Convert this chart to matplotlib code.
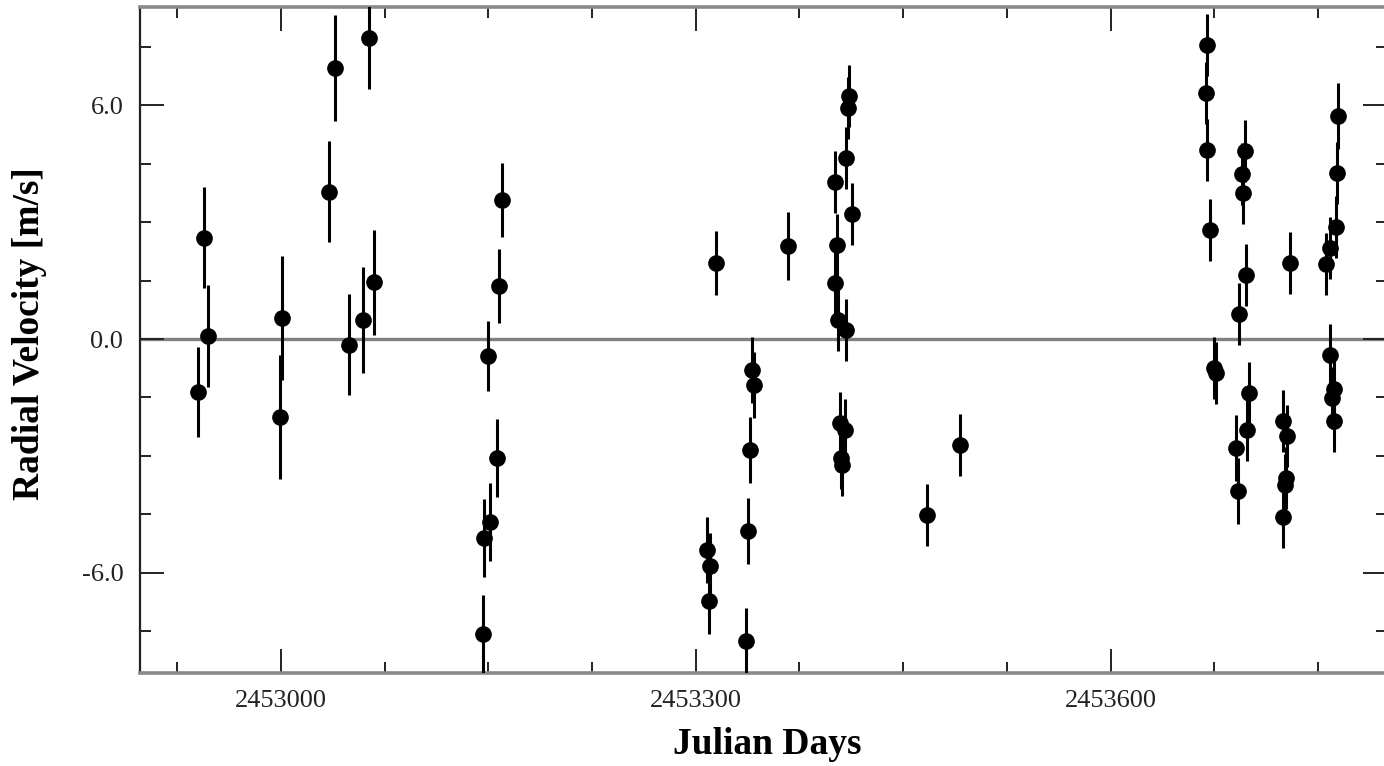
import matplotlib
matplotlib.use("Agg")
import matplotlib.pyplot as plt
from matplotlib.ticker import FixedLocator, MultipleLocator, FormatStrFormatter

# Julian day of each observation
jd = [2452940, 2452944, 2452947, 2452999, 2453001, 2453035, 2453039, 2453049,
      2453059, 2453064, 2453067,
      2453146, 2453147, 2453150, 2453151, 2453156, 2453158, 2453160,
      2453308, 2453310, 2453309.5, 2453315, 2453336, 2453338, 2453339,
      2453340.5, 2453342, 2453367,
      2453401, 2453400.5, 2453402, 2453403, 2453404, 2453405, 2453405.5,
      2453408, 2453408.5, 2453408.5, 2453410, 2453411, 2453413,
      2453467, 2453491,
      2453670, 2453669, 2453670, 2453672, 2453675, 2453676, 2453691,
      2453692, 2453693, 2453695, 2453696, 2453697, 2453698, 2453699, 2453700,
      2453724.5, 2453728, 2453727, 2453726, 2453725, 2453730,
      2453756, 2453758.5, 2453763, 2453763.5, 2453764.5, 2453759,
      2453760.5, 2453762, 2453761.5]

# radial velocity [m/s]
rv = [-1.36, 2.60, 0.08, -2.00, 0.54, 3.78, 6.96, -0.15, 0.49, 7.73, 1.46,
      -7.58, -5.11, -0.44, -4.70, -3.06, 1.36, 3.57,
      -5.42, -5.83, -6.73, 1.95, -7.76, -4.93, -2.85, -0.80, -1.18, 2.39,
      4.03, 1.44, 2.42, 0.49, -2.16, -3.06, -3.24, -2.34, 0.23, 4.65,
      5.94, 6.24, 3.21,
      -4.52, -2.72,
      7.55, 6.32, 4.86, 2.80, -0.75, -0.87, -2.80, -3.90, 0.64, 4.24,
      3.75, 4.83, 1.64, -2.34, -1.39,
      -2.11, -2.49, -3.57, -3.75, -4.57, 1.96,
      1.93, 2.34, 2.88, 4.26, 5.73, -0.41, -1.52, -1.28, -2.11]

# 1-sigma errors [m/s]
err = [1.15, 1.30, 1.30, 1.60, 1.60, 1.30, 1.37, 1.30, 1.35, 1.30, 1.35,
       1.00, 1.00, 0.90, 1.00, 1.00, 0.95, 0.95,
       0.85, 0.85, 0.85, 0.82, 0.85, 0.85, 0.85, 0.85, 0.85, 0.87,
       0.80, 0.80, 0.80, 0.80, 0.80, 0.80, 0.80, 0.80, 0.80, 0.80,
       0.80, 0.80, 0.80,
       0.80, 0.80,
       0.80, 0.80, 0.80, 0.80, 0.80, 0.80, 0.85, 0.85, 0.80, 0.80,
       0.80, 0.80, 0.80, 0.80, 0.80,
       0.80, 0.80, 0.80, 0.80, 0.80, 0.80,
       0.80, 0.80, 0.80, 0.80, 0.85, 0.80, 0.80, 0.80, 0.80]

xticks = [2453000, 2453300, 2453600]
yticks = [-6.0, 0.0, 6.0]

plt.rcParams['font.family'] = ['Liberation Serif', 'DejaVu Serif']
plt.rcParams['axes.unicode_minus'] = False

W, H = 1384, 766
fig = plt.figure(figsize=(W / 100, H / 100), dpi=100)
# right spine sits just past the right edge of the picture
ax = fig.add_axes([140 / W, 1 - 673 / H, (1387 - 140) / W, (673 - 7) / H])

ax.axhline(0, color='#808080', lw=2.4, zorder=1)
ax.errorbar(jd, rv, yerr=err, fmt='o', color='black', ms=11,
            elinewidth=2.2, capsize=0, zorder=3)

ax.set_xlim(2452898, 2453800)
ax.set_ylim(-8.58, 8.53)
ax.xaxis.set_major_locator(FixedLocator(xticks))
# minor every 75 days, lined up with the major ticks
ax.xaxis.set_minor_locator(MultipleLocator(75, offset=xticks[0] % 75))
ax.yaxis.set_major_locator(FixedLocator(yticks))
ax.yaxis.set_minor_locator(MultipleLocator(1.5))
ax.xaxis.set_major_formatter(FormatStrFormatter('%d'))
ax.yaxis.set_major_formatter(FormatStrFormatter('%.1f'))

ax.tick_params(which='both', direction='in', top=True, right=True,
               colors='#222222', labelcolor='#222222')
ax.tick_params(which='major', length=17, width=1.4, labelsize=19, pad=12)
ax.tick_params(which='minor', length=8, width=1.4)

for side in ['top', 'bottom']:
    ax.spines[side].set_color('#8a8a8a')
    ax.spines[side].set_linewidth(2.6)
ax.spines['left'].set_color('#222222')
ax.spines['left'].set_linewidth(1.6)

fig.text(30 / W, 1 - 334 / H, 'Radial Velocity [m/s]', rotation=90,
         ha='center', va='center', fontsize=27, fontweight='bold')
fig.text(767 / W, 1 - 744 / H, 'Julian Days', ha='center', va='center',
         fontsize=27, fontweight='bold')

fig.savefig('out.png', dpi=100)
